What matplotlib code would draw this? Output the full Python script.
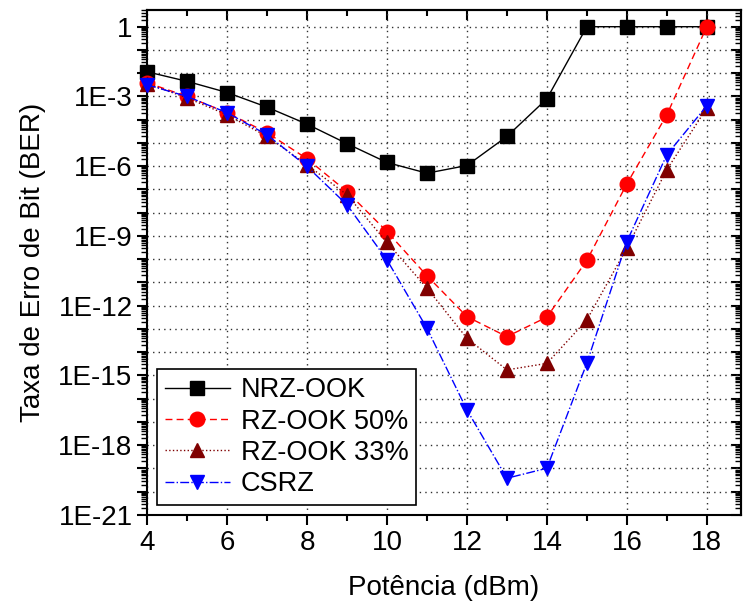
import numpy as np
import matplotlib.pyplot as plt
from matplotlib.ticker import FixedLocator, LogLocator, FuncFormatter, NullFormatter

plt.rcParams['font.family'] = ['Liberation Sans', 'DejaVu Sans']

# Potência (dBm)
potencia = [4, 5, 6, 7, 8, 9, 10, 11, 12, 13, 14, 15, 16, 17, 18]

# log10(BER)
nrz_ook = [-1.94, -2.35, -2.83, -3.46, -4.19, -5.03, -5.84, -6.30, -5.97, -4.72, -3.10, 0.0, 0.0, 0.0, 0.0]
rz_50 = [-2.41, -3.0, -3.7, -4.56, -5.68, -7.09, -8.81, -10.71, -12.47, -13.33, -12.49, -10.05, -6.76, -3.79, 0.0]
rz_33 = [-2.45, -3.06, -3.79, -4.72, -5.94, -7.23, -9.28, -11.24, -13.40, -14.76, -14.48, -12.61, -9.52, -6.15, -3.50]
csrz = [-2.50, -3.0, -3.70, -4.65, -6.01, -7.66, -10.03, -12.97, -16.48, -19.42, -18.99, -14.47, -9.24, -5.51, -3.40]

series = [
    ("NRZ-OOK", nrz_ook, 'black', '-', 's'),
    ("RZ-OOK 50%", rz_50, '#ff0000', (0, (5, 3)), 'o'),
    ("RZ-OOK 33%", rz_33, '#800000', ':', '^'),
    ("CSRZ", csrz, '#0000ff', '-.', 'v'),
]

fig = plt.figure(figsize=(7.43, 6.08), dpi=100)
ax = fig.add_axes([0.198, 0.153, 0.799, 0.831])

for name, vals, color, ls, mk in series:
    ax.plot(potencia, 10.0 ** np.array(vals), color=color, linestyle=ls, linewidth=1.0,
            marker=mk, markersize=10.5, markeredgecolor=color, markerfacecolor=color,
            label=name, clip_on=False, zorder=3)

ax.set_yscale('log')
ax.set_xlim(4, 18.85)
ax.set_ylim(1e-21, 10 ** 0.73)

ax.xaxis.set_major_locator(FixedLocator([4, 6, 8, 10, 12, 14, 16, 18]))
ax.xaxis.set_minor_locator(FixedLocator([5, 7, 9, 11, 13, 15, 17]))

decades = [10.0 ** k for k in range(-21, 1)]
ax.yaxis.set_major_locator(FixedLocator(decades))
ax.yaxis.set_minor_locator(LogLocator(base=10, subs=np.arange(2, 10), numticks=100))
ax.yaxis.set_minor_formatter(NullFormatter())


def ber_label(v, pos):
    k = int(round(np.log10(v)))
    if k % 3 != 0:
        return ''
    return '1' if k == 0 else '1E%d' % k


ax.yaxis.set_major_formatter(FuncFormatter(ber_label))

ax.tick_params(which='both', direction='out', labelsize=20, width=1.5, top=False, right=False)
ax.tick_params(which='major', length=7)
ax.tick_params(which='minor', length=4)
ax.tick_params(axis='y', which='minor', length=4, width=1.0)

# mirrored ticks on top and right, pointing inwards
top = ax.secondary_xaxis('top')
top.xaxis.set_major_locator(FixedLocator([4, 6, 8, 10, 12, 14, 16, 18]))
top.xaxis.set_minor_locator(FixedLocator([5, 7, 9, 11, 13, 15, 17]))
top.tick_params(which='both', direction='in', labeltop=False, width=1.5)
top.tick_params(which='major', length=7)
top.tick_params(which='minor', length=4)
right = ax.secondary_yaxis('right')
right.yaxis.set_major_locator(FixedLocator(decades))
right.yaxis.set_minor_locator(LogLocator(base=10, subs=np.arange(2, 10), numticks=100))
right.tick_params(which='both', direction='in', labelright=False)
right.tick_params(which='major', length=7, width=1.5)
right.tick_params(which='minor', length=4, width=1.0)
for sec in (top, right):
    for s in sec.spines.values():
        s.set_linewidth(1.5)

for s in ax.spines.values():
    s.set_linewidth(1.5)

ax.grid(True, which='major', linestyle=(0, (1, 3)), color='#303030', linewidth=1.0)
ax.set_axisbelow(True)

ax.set_xlabel('Potência (dBm)', fontsize=20, labelpad=14)
ax.set_ylabel('Taxa de Erro de Bit (BER)', fontsize=20, labelpad=9)

leg = ax.legend(loc='lower left', fontsize=19.5, fancybox=False, framealpha=1,
                edgecolor='black', handlelength=2.4, borderaxespad=0.35,
                labelspacing=0.2, handletextpad=0.4, borderpad=0.3)
leg.get_frame().set_linewidth(1.2)

fig.savefig('out.png', dpi=100)
